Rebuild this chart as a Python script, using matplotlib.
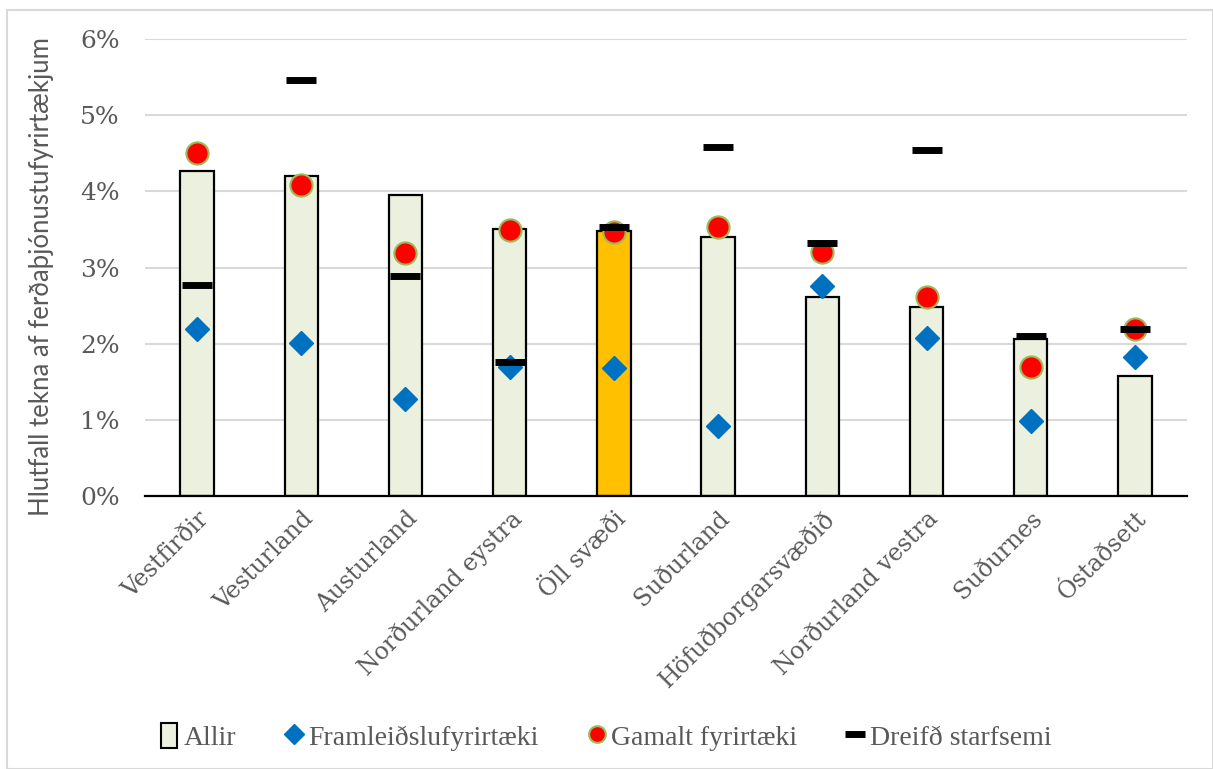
import matplotlib.pyplot as plt
from matplotlib.patches import Rectangle
from matplotlib.ticker import PercentFormatter
import numpy as np

# Data (in %)
regions = [
    "Vestfirðir", "Vesturland", "Austurland", "Norðurland eystra", "Öll svæði",
    "Suðurland", "Höfuðborgarsvæðið", "Norðurland vestra", "Suðurnes", "Óstaðsett",
]
allir = [4.27, 4.20, 3.95, 3.51, 3.48, 3.40, 2.62, 2.48, 2.06, 1.57]
framleidslu = [2.20, 2.01, 1.27, 1.70, 1.68, 0.92, 2.76, 2.07, 0.99, 1.83]
gamalt = [4.50, 4.09, 3.19, 3.49, 3.47, 3.53, 3.21, 2.61, 1.70, 2.20]
dreifd = [2.77, 5.46, 2.89, 1.76, 3.54, 4.58, 3.32, 4.55, 2.10, 2.20]

grey = "#595959"
serif = ["DejaVu Serif"]

fig = plt.figure(figsize=(12.13, 7.69), dpi=100)
fig.patches.append(Rectangle((7 / 1213, 0), 1 - 7 / 1213, 1 - 10 / 769,
                             transform=fig.transFigure, fill=False,
                             edgecolor="#d9d9d9", linewidth=1.5))
ax = fig.add_axes([0.1195, 0.355, 0.8591, 0.594])

x = np.arange(len(regions))
colors = ["#ffc000" if r == "Öll svæði" else "#ebf1de" for r in regions]
ax.bar(x, allir, width=0.32, color=colors, edgecolor="black", linewidth=1.6,
       zorder=2, label="Allir")
ax.plot(x, framleidslu, linestyle="none", marker="D", ms=12, color="#0070c0",
        zorder=3, label="Framleiðslufyrirtæki")
ax.plot(x, gamalt, linestyle="none", marker="o", ms=16, markerfacecolor="#ff0000",
        markeredgecolor="#9bbb59", markeredgewidth=1.5, zorder=4,
        label="Gamalt fyrirtæki")
ax.plot(x, dreifd, linestyle="none", marker="_", ms=21, mew=5, color="black",
        zorder=5, label="Dreifð starfsemi")

ax.set_xlim(-0.5, len(regions) - 0.5)
ax.set_ylim(0, 6)
ax.set_yticks(range(0, 7))
ax.yaxis.set_major_formatter(PercentFormatter(decimals=0))
ax.grid(axis="y", color="#d9d9d9", linewidth=1.5, zorder=0)
ax.set_axisbelow(True)
for sp in ["top", "right", "left"]:
    ax.spines[sp].set_visible(False)
ax.spines["bottom"].set_linewidth(1.6)
ax.tick_params(length=0)
ax.tick_params(axis="y", pad=18)
ax.tick_params(axis="x", pad=8)

ax.set_xticks(x)
ax.set_xticklabels(regions, rotation=45, ha="right", rotation_mode="anchor",
                   fontsize=17, color=grey, family=serif)
for lab in ax.get_yticklabels():
    lab.set_fontsize(18)
    lab.set_color(grey)
    lab.set_family(serif)

ax.set_ylabel("Hlutfall tekna af ferðaþjónustufyrirtækjum", fontsize=18.5,
              color=grey, family=["Lato"])
ax.yaxis.set_label_coords(-0.087, 0.48)

# legend handles: smaller markers than in the plot
h_allir = Rectangle((0, 0), 1, 1, facecolor="#ebf1de", edgecolor="black", linewidth=1.5)
h_d, = plt.plot([], [], linestyle="none", marker="D", ms=10, color="#0070c0")
h_g, = plt.plot([], [], linestyle="none", marker="o", ms=12, markerfacecolor="#ff0000",
                markeredgecolor="#9bbb59", markeredgewidth=1.5)
h_s, = plt.plot([], [], linestyle="none", marker="_", ms=14, mew=5, color="black")
leg = fig.legend([h_allir, h_d, h_g, h_s],
                 ["Allir", "Framleiðslufyrirtæki", "Gamalt fyrirtæki", "Dreifð starfsemi"],
                 loc="center", bbox_to_anchor=(0.5, 0.042), ncol=4,
                 frameon=False, handlelength=0.55, handleheight=1.0, handletextpad=0.25,
                 columnspacing=1.8, prop={"family": "Liberation Serif", "size": 20})
for t in leg.get_texts():
    t.set_color(grey)

plt.savefig("out.png", dpi=100)
